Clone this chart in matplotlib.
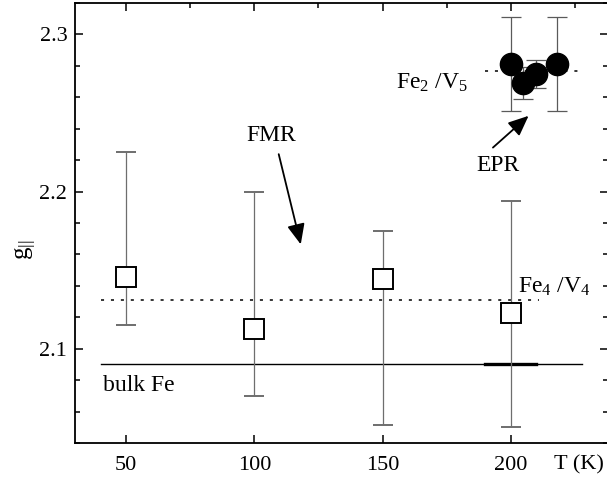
import matplotlib
matplotlib.use('Agg')
import matplotlib.pyplot as plt
from matplotlib.ticker import MultipleLocator

SERIF = ['Liberation Serif', 'DejaVu Serif']
plt.rcParams['font.family'] = SERIF
plt.rcParams['mathtext.fontset'] = 'custom'
plt.rcParams['mathtext.rm'] = 'Liberation Serif'
plt.rcParams['mathtext.it'] = 'Liberation Serif:italic'

# FMR g-values (open squares) with lower/upper error limits
T_fmr = [50, 100, 150, 200]
g_fmr = [2.1456, 2.1123, 2.1441, 2.1225]
g_fmr_low = [2.115, 2.0696, 2.0515, 2.050]
g_fmr_high = [2.225, 2.200, 2.1752, 2.1943]

# EPR g-values (filled circles)
T_epr = [200, 205, 210, 218]
g_epr = [2.281, 2.269, 2.275, 2.281]
g_epr_err = [0.030, 0.010, 0.009, 0.030]

# reference levels and the temperature range they are drawn over
g_bulk = 2.090
T_bulk = [40, 228]
T_bulk_bold = [190, 210]
g_fe4v4 = 2.131
T_fe4v4 = [40, 211]
g_fe2v5 = 2.277
T_fe2v5 = [190, 227]

xticks = [50, 100, 150, 200]
yticks = [2.1, 2.2, 2.3]

fig = plt.figure(figsize=(6.07, 4.78), dpi=100)
ax = fig.add_axes([75 / 607, 35 / 478, 533 / 607, 440 / 478])

dots = (0, (2, 4.5))
ax.plot(T_bulk, [g_bulk, g_bulk], color='black', lw=1.0, zorder=1)
ax.plot(T_bulk_bold, [g_bulk, g_bulk], color='black', lw=2.4, zorder=1)
ax.plot(T_fe4v4, [g_fe4v4, g_fe4v4], color='black', lw=1.1, ls=dots, zorder=1)
ax.plot(T_fe2v5, [g_fe2v5, g_fe2v5], color='black', lw=1.1, ls=dots, zorder=1)

yerr = [[g - lo for g, lo in zip(g_fmr, g_fmr_low)],
        [hi - g for g, hi in zip(g_fmr, g_fmr_high)]]
ax.errorbar(T_fmr, g_fmr, yerr=yerr, fmt='s', ms=14, mfc='white', mec='black',
            mew=1.4, ecolor='#6e6e6e', elinewidth=0.9, capsize=7.4, capthick=0.9,
            zorder=3)
ax.errorbar(T_epr, g_epr, yerr=g_epr_err, fmt='o', ms=16, mfc='black', mec='black',
            ecolor='#5a5a5a', elinewidth=0.9, capsize=7.4, capthick=0.9, zorder=4)

# labels and arrows
ax.text(40.9, 2.073, 'bulk Fe', fontsize=17, va='baseline')
ax.text(202.7, 2.1359, r'Fe$_4$ /V$_4$', fontsize=17, va='baseline')
ax.text(155.4, 2.2652, r'Fe$_2$ /V$_5$', fontsize=17, va='baseline')
ax.text(106.7, 2.2359, 'FMR', fontsize=17, ha='center', va='center')
ax.text(195, 2.2169, 'EPR', fontsize=17, ha='center', va='center')

arrow = dict(arrowstyle='-|>,head_length=0.62,head_width=0.27', mutation_scale=20,
             color='black', lw=1.3, shrinkA=0, shrinkB=0)
ax.annotate('', xy=(118.1, 2.1664), xytext=(109.5, 2.2238), arrowprops=arrow)
ax.annotate('', xy=(207, 2.2482), xytext=(193.1, 2.228), arrowprops=arrow)

ax.set_xlim(30, 238)
ax.set_ylim(2.04, 2.32)
ax.set_xticks(xticks)
ax.set_xticklabels([str(t) for t in xticks], fontfamily=SERIF)
ax.xaxis.set_minor_locator(MultipleLocator(25))
ax.set_yticks(yticks)
ax.set_yticklabels(['%.1f' % v for v in yticks], fontfamily=SERIF)
ax.yaxis.set_minor_locator(MultipleLocator(0.02))
ax.tick_params(which='both', direction='in', top=True, right=True, width=1.1,
               labelsize=16)
ax.tick_params(which='major', length=6)
ax.tick_params(which='minor', length=3.5)
ax.tick_params(axis='x', which='minor', bottom=False)
ax.tick_params(axis='x', pad=9)
ax.tick_params(axis='y', pad=5.5)
for sp in ax.spines.values():
    sp.set_linewidth(1.3)

ax.set_ylabel(r'$\mathrm{g}_{||}$', fontsize=18)
ax.yaxis.set_label_coords(-0.068, 0.44)
ax.annotate('T (K)', xy=(217, 0), xycoords=('data', 'axes fraction'),
            xytext=(0, -9), textcoords='offset points', fontsize=16,
            ha='left', va='top')

fig.savefig('out.png', dpi=100)
